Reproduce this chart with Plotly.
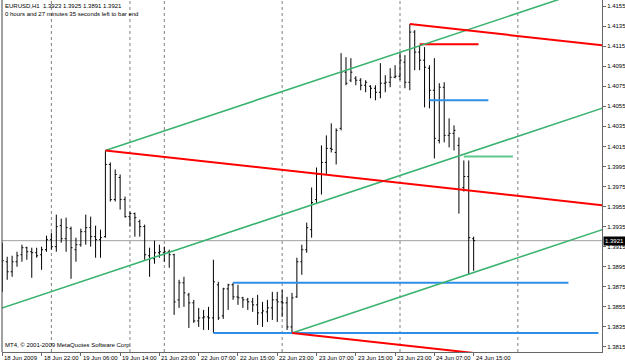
import plotly.graph_objects as go

# ---------------- data ----------------
bar_index = list(range(97))
open_ = [1.3887,1.3900,1.3890,1.3900,1.3907,1.3914,1.3910,1.3909,1.3907,1.3912,
         1.3922,1.3915,1.3936,1.3923,1.3933,1.3912,1.3917,1.3930,1.3934,1.3925,
         1.3922,1.3925,1.3997,1.3962,1.3984,1.3962,1.3945,1.3948,1.3940,1.3935,
         1.3906,1.3903,1.3909,1.3909,1.3910,1.3907,1.3862,1.3879,1.3867,1.3859,
         1.3841,1.3844,1.3845,1.3844,1.3877,1.3846,1.3873,1.3877,1.3865,1.3864,
         1.3862,1.3860,1.3857,1.3849,1.3850,1.3854,1.3862,1.3860,1.3859,1.3835,
         1.3865,1.3900,1.3912,1.3932,1.3962,1.3987,1.3999,1.4013,1.4009,1.4033,
         1.4089,1.4081,1.4083,1.4081,1.4076,1.4075,1.4073,1.4069,1.4078,1.4079,
         1.4084,1.4085,1.4099,1.4079,1.4129,1.4109,1.4101,1.4093,1.4071,1.4021,
         1.4074,1.4026,1.4028,1.4016,1.3974,1.3985,1.3923]
high_ = [1.3919,1.3905,1.3906,1.3910,1.3917,1.3915,1.3914,1.3914,1.3915,1.3926,
         1.3929,1.3947,1.3943,1.3944,1.3935,1.3924,1.3933,1.3947,1.3945,1.3936,
         1.3932,1.4011,1.3999,1.3992,1.3987,1.3965,1.3950,1.3949,1.3942,1.3937,
         1.3914,1.3921,1.3917,1.3915,1.3912,1.3908,1.3882,1.3885,1.3869,1.3862,
         1.3854,1.3852,1.3855,1.3902,1.3880,1.3874,1.3878,1.3879,1.3877,1.3865,
         1.3864,1.3864,1.3867,1.3860,1.3862,1.3870,1.3870,1.3872,1.3865,1.3869,
         1.3904,1.3917,1.3939,1.3974,1.3994,1.4016,1.4026,1.4038,1.4033,1.4108,
         1.4104,1.4103,1.4085,1.4083,1.4081,1.4076,1.4076,1.4098,1.4086,1.4093,
         1.4096,1.4109,1.4106,1.4137,1.4131,1.4116,1.4114,1.4096,1.4103,1.4078,
         1.4079,1.4043,1.4036,1.4024,1.4001,1.4001,1.3925]
low_ = [1.3870,1.3882,1.3885,1.3895,1.3900,1.3902,1.3884,1.3904,1.3892,1.3910,
        1.3912,1.3910,1.3919,1.3910,1.3883,1.3900,1.3915,1.3917,1.3915,1.3904,
        1.3904,1.3924,1.3960,1.3960,1.3952,1.3944,1.3935,1.3925,1.3925,1.3902,
        1.3885,1.3898,1.3904,1.3900,1.3894,1.3847,1.3854,1.3855,1.3834,1.3839,
        1.3835,1.3832,1.3832,1.3829,1.3842,1.3843,1.3852,1.3862,1.3857,1.3854,
        1.3852,1.3850,1.3837,1.3835,1.3840,1.3842,1.3840,1.3845,1.3832,1.3829,
        1.3864,1.3887,1.3909,1.3924,1.3958,1.3967,1.3987,1.4009,1.3997,1.4031,
        1.4076,1.4079,1.4076,1.4071,1.4069,1.4063,1.4061,1.4063,1.4069,1.4074,
        1.4083,1.4081,1.4073,1.4071,1.4091,1.4091,1.4054,1.4053,1.4003,1.4018,
        1.4019,1.4014,1.4011,1.3948,1.3970,1.3887,1.3891]
close_ = [1.3901,1.3890,1.3900,1.3906,1.3914,1.3910,1.3909,1.3906,1.3912,1.3922,
          1.3915,1.3935,1.3923,1.3934,1.3914,1.3917,1.3930,1.3934,1.3925,1.3922,
          1.3924,1.3997,1.3962,1.3987,1.3962,1.3945,1.3948,1.3944,1.3935,1.3907,
          1.3903,1.3909,1.3910,1.3910,1.3907,1.3860,1.3879,1.3869,1.3859,1.3841,
          1.3844,1.3845,1.3844,1.3880,1.3844,1.3873,1.3877,1.3865,1.3864,1.3862,
          1.3860,1.3857,1.3849,1.3851,1.3854,1.3862,1.3860,1.3859,1.3835,1.3864,
          1.3900,1.3912,1.3934,1.3959,1.3987,1.3999,1.4013,1.4012,1.4031,1.4089,
          1.4078,1.4089,1.4081,1.4076,1.4079,1.4073,1.4069,1.4078,1.4079,1.4084,
          1.4085,1.4101,1.4079,1.4129,1.4109,1.4101,1.4094,1.4071,1.4023,1.4074,
          1.4026,1.4028,1.4031,1.3972,1.3985,1.3924,1.3921]

x_label_bars = [0, 8, 16, 24, 32, 40, 48, 56, 64, 72, 80, 88, 96]
x_labels = ["18 Jun 2009", "18 Jun 22:00", "19 Jun 06:00", "19 Jun 14:00",
            "21 Jun 23:00", "22 Jun 07:00", "22 Jun 15:00", "22 Jun 23:00",
            "23 Jun 07:00", "23 Jun 15:00", "23 Jun 23:00", "24 Jun 07:00",
            "24 Jun 15:00"]
separator_bars = [10, 26, 33, 57, 81, 105]
y_ticks = [1.3815 + 0.002 * k for k in range(18)]
bid_price = 1.3921

# trend lines: anchor bar, anchor price, slope (price per bar), extend left?
green_slope = 0.000163
red_slope = -0.000054
green_anchor_bars = [21, 81, 59]
green_anchor_prices = [1.4011, 1.3986, 1.3829]
green_extend_left = [False, True, False]
red_anchor_bars = [21, 83, 59]
red_anchor_prices = [1.4011, 1.4137, 1.3829]

# horizontal level segments: start bar, end bar, price, colour
level_start = [85, 87, 94, 47, 43]
level_end = [97, 99, 104, 115.3, 121.4]
level_price = [1.4117, 1.4061, 1.4005, 1.3879, 1.3829]
level_color = ["#ff0000", "#2f8ee8", "#5cc98a", "#2f8ee8", "#2f8ee8"]

X_MIN, X_MAX = -0.06, 122.14
Y_MIN, Y_MAX = 1.3810, 1.4161
FONT = "Liberation Sans"

fig = go.Figure()

# horizontal levels
for s, e, p, c in zip(level_start, level_end, level_price, level_color):
    fig.add_trace(go.Scatter(x=[s, e], y=[p, p], mode="lines",
                             line=dict(color=c, width=2), hoverinfo="skip"))

# green channel
for b, p, ext in zip(green_anchor_bars, green_anchor_prices, green_extend_left):
    x0 = X_MIN if ext else b
    fig.add_trace(go.Scatter(x=[x0, X_MAX + 5],
                             y=[p + green_slope * (x0 - b), p + green_slope * (X_MAX + 5 - b)],
                             mode="lines", line=dict(color="#3cb371", width=1.6),
                             hoverinfo="skip"))
# red lines
for b, p in zip(red_anchor_bars, red_anchor_prices):
    fig.add_trace(go.Scatter(x=[b, X_MAX + 5],
                             y=[p, p + red_slope * (X_MAX + 5 - b)],
                             mode="lines", line=dict(color="#ff0000", width=2),
                             hoverinfo="skip"))

# bars
fig.add_trace(go.Ohlc(x=bar_index, open=open_, high=high_, low=low_, close=close_,
                      increasing=dict(line=dict(color="#000000", width=1)),
                      decreasing=dict(line=dict(color="#000000", width=1)),
                      tickwidth=0.3, hoverinfo="skip"))

shapes = []
for s in separator_bars:
    shapes.append(dict(type="line", xref="x", yref="paper", x0=s, x1=s, y0=0, y1=1,
                       line=dict(color="#808080", width=1, dash="dot"), layer="below"))
shapes.append(dict(type="line", xref="paper", yref="y", x0=0, x1=1, y0=bid_price, y1=bid_price,
                   line=dict(color="#a0a0a0", width=1), layer="below"))
# frame
shapes.append(dict(type="line", xref="paper", yref="paper", x0=0, x1=0, y0=0, y1=1,
                   line=dict(color="#444444", width=1)))

annotations = []
for b, t in zip(x_label_bars, x_labels):
    annotations.append(dict(x=b, y=0, xref="x", yref="paper", text=t, showarrow=False,
                            xanchor="left", yanchor="top", xshift=0, yshift=-1,
                            font=dict(family=FONT, size=6, color="#000000")))
annotations.append(dict(x=0, y=1, xref="paper", yref="paper",
                        text="EURUSD,H1  1.3923 1.3925 1.3891 1.3921<br>0 hours and 27 minutes 35 seconds left to bar end",
                        showarrow=False, xanchor="left", yanchor="top", align="left",
                        xshift=1, yshift=-1,
                        font=dict(family=FONT, size=6, color="#000000")))
annotations.append(dict(x=0, y=0, xref="paper", yref="paper",
                        text="MT4, \u00a9 2001-2009 MetaQuotes Software Corp.",
                        showarrow=False, xanchor="left", yanchor="bottom",
                        xshift=1, yshift=2,
                        font=dict(family=FONT, size=6, color="#000000")))
annotations.append(dict(x=1, y=bid_price, xref="paper", yref="y", text="1.3921",
                        showarrow=False, xanchor="left", yanchor="middle", xshift=1,
                        bgcolor="#000000", borderpad=1,
                        font=dict(family=FONT, size=6, color="#ffffff")))

fig.update_layout(
    width=625, height=363,
    margin=dict(l=2, r=23, t=0, b=11),
    paper_bgcolor="#ffffff", plot_bgcolor="#ffffff",
    showlegend=False,
    shapes=shapes, annotations=annotations,
    xaxis=dict(range=[X_MIN, X_MAX], rangeslider=dict(visible=False),
               showgrid=False, zeroline=False, showline=True, linecolor="#666666",
               linewidth=1, tickvals=x_label_bars, ticks="outside", ticklen=3,
               tickcolor="#666666", showticklabels=False, fixedrange=True),
    yaxis=dict(range=[Y_MIN, Y_MAX], side="right", showgrid=False, zeroline=False,
               showline=True, linecolor="#666666", linewidth=1,
               tickvals=y_ticks, ticktext=["%.4f" % v for v in y_ticks],
               ticks="outside", ticklen=3, tickcolor="#666666",
               tickfont=dict(family=FONT, size=6, color="#000000"), fixedrange=True),
)

fig.write_html("out.html")
